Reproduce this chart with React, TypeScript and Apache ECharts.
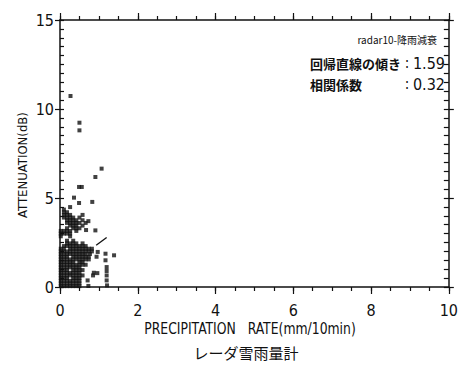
import React, { useEffect, useRef } from "react";
import * as echarts from "echarts";

// ---- data ----
// dense lower cluster: [y, x values]
const lowerRows: [number, number[]][] = [
  [0.05, [0.02, 0.1, 0.18, 0.26, 0.34, 0.42, 0.5]],
  [0.2, [0.02, 0.1, 0.18, 0.26, 0.34, 0.42, 0.5]],
  [0.35, [0.02, 0.1, 0.18, 0.26, 0.34, 0.42, 0.5]],
  [0.5, [0.02, 0.1, 0.18, 0.34, 0.42, 0.5]],
  [0.65, [0.02, 0.1, 0.18, 0.26, 0.34, 0.42, 0.5, 0.58]],
  [0.8, [0.02, 0.1, 0.18, 0.26, 0.34, 0.42, 0.5]],
  [0.95, [0.02, 0.1, 0.18, 0.34, 0.42, 0.5, 0.58]],
  [1.1, [0.02, 0.1, 0.18, 0.26, 0.34, 0.42, 0.5]],
  [1.25, [0.02, 0.1, 0.18, 0.26, 0.34, 0.42, 0.5, 0.58, 0.66]],
  [1.4, [0.02, 0.1, 0.18, 0.26, 0.34, 0.5, 0.58]],
  [1.55, [0.02, 0.1, 0.18, 0.26, 0.34, 0.42, 0.5, 0.58, 0.66, 0.74]],
  [1.7, [0.02, 0.1, 0.18, 0.34, 0.42, 0.5, 0.58, 0.66, 0.74]],
  [1.85, [0.02, 0.1, 0.18, 0.26, 0.34, 0.42, 0.5, 0.58, 0.66, 0.77]],
  [2.0, [0.02, 0.1, 0.18, 0.26, 0.34, 0.42, 0.5, 0.58, 0.66, 0.74, 0.82]],
  [2.15, [0.02, 0.1, 0.26, 0.34, 0.42, 0.5, 0.58, 0.66, 0.74, 0.82]],
  [2.3, [0.1, 0.18, 0.26, 0.34, 0.42, 0.5, 0.58, 0.66]],
  [2.45, [0.18, 0.26, 0.34, 0.42, 0.58]],
  [2.6, [0.18, 0.34]],
];

// upper band of points: [y, x values]
const upperRows: [number, number[]][] = [
  [2.85, [0.02, 0.26]],
  [3.0, [0.02, 0.1, 0.18, 0.26]],
  [3.15, [0.02, 0.1, 0.18, 0.26, 0.42]],
  [3.3, [0.18, 0.34, 0.42, 0.5]],
  [3.45, [0.26, 0.34, 0.42, 0.58]],
  [3.6, [0.18, 0.26, 0.34, 0.42, 0.5, 0.66]],
  [3.75, [0.18, 0.26, 0.34, 0.42, 0.58]],
  [3.9, [0.1, 0.18, 0.26, 0.34, 0.5]],
  [4.05, [0.1, 0.18, 0.26, 0.58]],
  [4.2, [0.1, 0.18]],
  [4.35, [0.1]],
];

// isolated points [x, y]
const scatteredPoints: [number, number][] = [
  [0.27, 10.73], [0.5, 9.23], [0.5, 8.8], [1.07, 6.65], [0.91, 6.18],
  [0.49, 5.62], [0.56, 5.62], [0.36, 5.02], [0.83, 4.78], [0.49, 4.72],
  [0.26, 4.49], [0.73, 3.7], [0.67, 3.2], [0.91, 3.18], [0.97, 1.97],
  [1.17, 1.87], [1.17, 1.5], [1.39, 1.78], [1.2, 1.12], [1.2, 0.9],
  [0.87, 0.8], [0.96, 0.78], [0.85, 0.65], [1.2, 0.65], [1.2, 0.37],
  [0.71, 0.37], [0.73, 0.06], [1.21, 0.09], [0.94, 1.7],
];

// regression line
const regSlope = 1.59;
const regIntercept = 0.87;
const regXRange = [0.93, 1.2];
const corrCoef = "0.32";

const xRange = { min: 0, max: 10 };
const yRange = { min: 0, max: 15 };
const xMajorStep = 2;
const xMinorStep = 0.5;
const yMajorStep = 5;
const yMinorStep = 0.5;

const FONT = "'DejaVu Sans Condensed', 'Liberation Sans Narrow', 'Liberation Sans', sans-serif";
const CJK = "'Noto Sans CJK JP', sans-serif";
const INK = "#111111";

function buildPoints(): [number, number][] {
  const pts: [number, number][] = [];
  for (const [y, xs] of lowerRows) for (const x of xs) pts.push([x, y]);
  for (const [y, xs] of upperRows) for (const x of xs) pts.push([x, y]);
  for (const p of scatteredPoints) pts.push(p);
  return pts;
}

export default function App() {
  const ref = useRef<HTMLDivElement>(null);
  useEffect(() => {
    if (!ref.current) return;
    const chart = echarts.init(ref.current, undefined, { renderer: "svg" });
    const axisLine = { show: true, onZero: false, lineStyle: { color: INK, width: 1.5 } };
    const noLine = { show: false, onZero: false };
    const tickStyle = { color: INK, width: 1.2 };
    const xAx = (position: string, interval: number, len: number, labels: boolean, line: boolean) => ({
      type: "value" as const,
      position,
      min: xRange.min,
      max: xRange.max,
      interval,
      splitLine: { show: false },
      axisLine: line ? axisLine : noLine,
      axisTick: { show: true, length: len, inside: false, lineStyle: tickStyle },
      axisLabel: labels
        ? { show: true, margin: 15, fontSize: 16, fontFamily: FONT, color: INK }
        : { show: false },
    });
    const yAx = (position: string, interval: number, len: number, inside: boolean, labels: boolean, line: boolean) => ({
      type: "value" as const,
      position,
      min: yRange.min,
      max: yRange.max,
      interval,
      splitLine: { show: false },
      axisLine: line ? axisLine : noLine,
      axisTick: { show: true, length: len, inside, lineStyle: tickStyle },
      axisLabel: labels
        ? { show: true, margin: 6, fontSize: 16, fontFamily: FONT, color: INK }
        : { show: false },
    });
    const regLine = regXRange.map((x) => [x, regIntercept + regSlope * x]);
    chart.setOption({
      animation: false,
      backgroundColor: "#ffffff",
      grid: { left: 60, right: 11, top: 20, bottom: 78, containLabel: false },
      xAxis: [
        xAx("bottom", xMajorStep, 7, true, true),
        xAx("top", xMajorStep, 7, false, true),
        xAx("bottom", xMinorStep, 4, false, false),
        xAx("top", xMinorStep, 4, false, false),
      ],
      yAxis: [
        yAx("left", yMajorStep, 5, false, true, true),
        yAx("left", yMinorStep, 4, true, false, false),
        yAx("right", yMajorStep, 5, false, false, true),
        yAx("right", yMinorStep, 5, true, false, false),
      ],
      series: [
        {
          type: "scatter",
          xAxisIndex: 0,
          yAxisIndex: 0,
          symbol: "rect",
          symbolSize: 4,
          itemStyle: { color: "#111111" },
          data: buildPoints(),
        },
        {
          type: "line",
          xAxisIndex: 0,
          yAxisIndex: 0,
          symbol: "none",
          lineStyle: { color: INK, width: 1.3 },
          data: regLine,
        },
      ],
      graphic: [
        {
          type: "text",
          x: 22,
          y: 165,
          rotation: Math.PI / 2,
          style: {
            text: "ATTENUATION(dB)",
            font: `13px ${FONT}`,
            fill: INK,
            align: "center",
            verticalAlign: "middle",
          },
        },
        {
          type: "text",
          x: 250,
          y: 329,
          scaleX: 0.92,
          style: {
            text: "PRECIPITATION   RATE(mm/10min)",
            font: `15px ${FONT}`,
            fill: INK,
            align: "center",
            verticalAlign: "middle",
          },
        },
        {
          type: "text",
          x: 246,
          y: 352,
          style: {
            text: "レーダ雪雨量計",
            font: `15px ${CJK}`,
            fill: INK,
            align: "center",
            verticalAlign: "middle",
          },
        },
        {
          type: "text",
          x: 437,
          y: 39,
          style: {
            text: "radar10-降雨減衰",
            font: `10px ${CJK}`,
            fill: INK,
            align: "right",
            verticalAlign: "middle",
          },
        },
        {
          type: "text",
          x: 310,
          y: 63,
          style: { text: "回帰直線の傾き", font: `bold 13px ${CJK}`, fill: INK, align: "left", verticalAlign: "middle" },
        },
        {
          type: "text",
          x: 407,
          y: 63,
          style: { text: ":", font: `15px ${FONT}`, fill: INK, align: "center", verticalAlign: "middle" },
        },
        {
          type: "text",
          x: 445,
          y: 63,
          style: { text: regSlope.toFixed(2), font: `16px ${FONT}`, fill: INK, align: "right", verticalAlign: "middle" },
        },
        {
          type: "text",
          x: 310,
          y: 84,
          style: { text: "相関係数", font: `bold 13px ${CJK}`, fill: INK, align: "left", verticalAlign: "middle" },
        },
        {
          type: "text",
          x: 407,
          y: 84,
          style: { text: ":", font: `15px ${FONT}`, fill: INK, align: "center", verticalAlign: "middle" },
        },
        {
          type: "text",
          x: 445,
          y: 84,
          style: { text: corrCoef, font: `16px ${FONT}`, fill: INK, align: "right", verticalAlign: "middle" },
        },
      ],
    });
    return () => chart.dispose();
  }, []);
  return (
    <div
      ref={ref}
      style={{ position: "fixed", left: 0, top: 0, width: 461, height: 365, background: "#fff" }}
    />
  );
}
